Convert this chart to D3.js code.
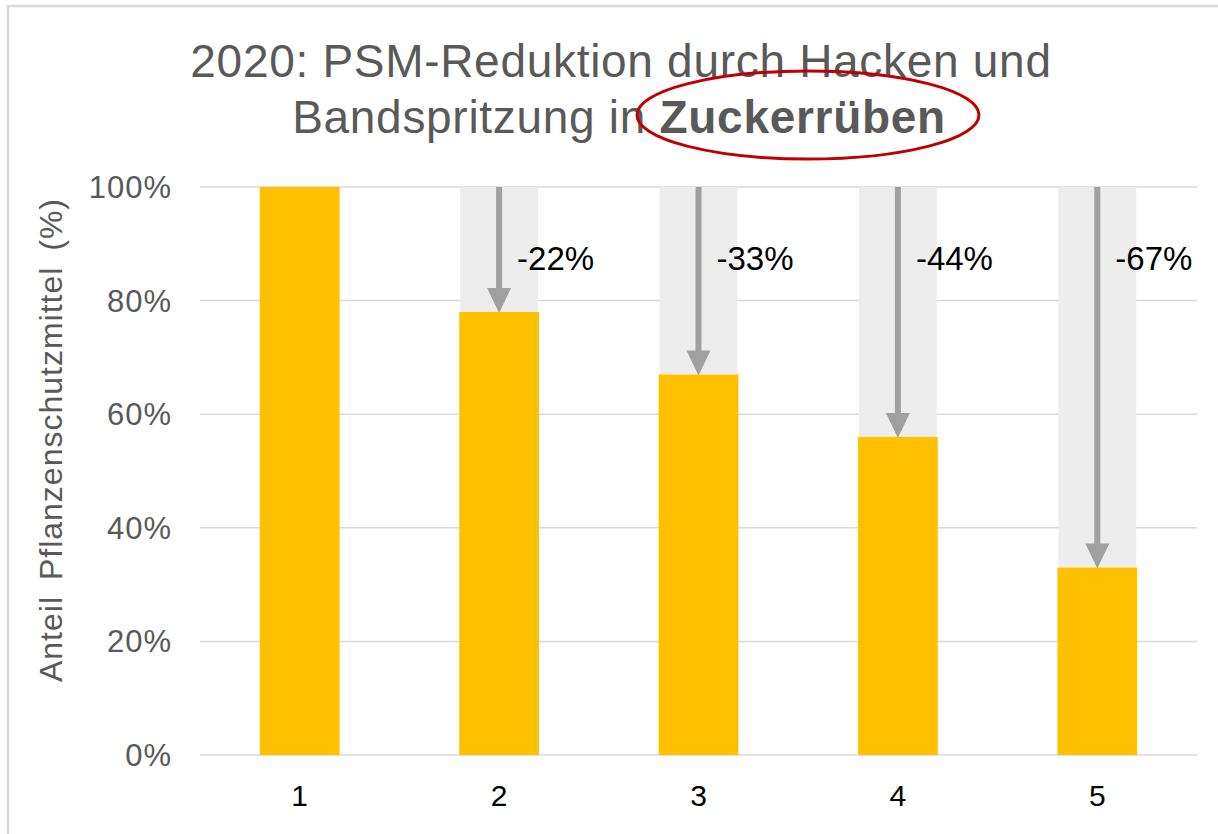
<!DOCTYPE html>
<html><head><meta charset="utf-8">
<script src="https://cdn.jsdelivr.net/npm/d3@7"></script>
<style>body{margin:0;background:#fff}svg{display:block}text{font-family:"Liberation Sans",Arial,sans-serif}</style>
</head><body>
<svg id="c" width="1218" height="834"></svg>
<script>
const categories = ["1","2","3","4","5"];
const values = [100, 78, 67, 56, 33];
const reductionLabels = ["", "-22%", "-33%", "-44%", "-67%"];
const yTicks = [0, 20, 40, 60, 80, 100];
const titleLine1 = "2020: PSM-Reduktion durch Hacken und";
const titleLine2a = "Bandspritzung in ";
const titleLine2b = "Zuckerrüben";
const yTitle = "Anteil Pflanzenschutzmittel (%)";

const svg = d3.select("#c");
svg.append("rect").attr("x",8).attr("y",6).attr("width",1300).attr("height",900)
  .attr("fill","none").attr("stroke","#d9d9d9").attr("stroke-width",2.5);

const x = d3.scaleBand().domain(categories).range([200,1197]).paddingInner(0.6).paddingOuter(0.3);
const y = d3.scaleLinear().domain([0,100]).range([755,187]);

// gridlines
svg.append("g").selectAll("line").data(yTicks).join("line")
  .attr("x1",200).attr("x2",1197).attr("y1",d=>y(d)).attr("y2",d=>y(d))
  .attr("stroke","#d9d9d9").attr("stroke-width",1.5);

// y tick labels
svg.append("g").selectAll("text").data(yTicks).join("text")
  .attr("x",172).attr("y",d=>y(d)+11).attr("text-anchor","end")
  .attr("font-size",31).attr("letter-spacing",1).attr("fill","#595959").text(d=>d+"%");

// x labels
svg.append("g").selectAll("text").data(categories).join("text")
  .attr("x",d=>x(d)+x.bandwidth()/2).attr("y",806).attr("text-anchor","middle")
  .attr("font-size",30).attr("fill","#000").text(d=>d);

const data = categories.map((c,i)=>({c, v:values[i], lab:reductionLabels[i]}));

// gray background
svg.append("g").selectAll("rect").data(data.filter(d=>d.v<100)).join("rect")
  .attr("x",d=>x(d.c)+1).attr("width",x.bandwidth()-2)
  .attr("y",y(100)).attr("height",d=>y(d.v)-y(100)).attr("fill","#ededed");

// bars
svg.append("g").selectAll("rect").data(data).join("rect")
  .attr("x",d=>x(d.c)).attr("width",x.bandwidth())
  .attr("y",d=>y(d.v)).attr("height",d=>y(0)-y(d.v)).attr("fill","#ffc000");

// arrows
const ag = svg.append("g").selectAll("g").data(data.filter(d=>d.v<100)).join("g");
ag.append("line")
  .attr("x1",d=>x(d.c)+x.bandwidth()/2).attr("x2",d=>x(d.c)+x.bandwidth()/2)
  .attr("y1",y(100)).attr("y2",d=>y(d.v)-20)
  .attr("stroke","#a0a0a0").attr("stroke-width",6);
ag.append("path")
  .attr("d",d=>{const cx=x(d.c)+x.bandwidth()/2, ty=y(d.v)+1;
    return `M${cx-12},${ty-25}L${cx+12},${ty-25}L${cx},${ty}Z`;})
  .attr("fill","#a0a0a0");
ag.append("text")
  .attr("x",d=>x(d.c)+x.bandwidth()/2+18).attr("y",270)
  .attr("font-size",33).attr("fill","#000").text(d=>d.lab);

// title
svg.append("text").attr("x",621).attr("y",77).attr("text-anchor","middle")
  .attr("font-size",46).attr("letter-spacing",0.7).attr("fill","#595959").text(titleLine1);
const t2 = svg.append("text").attr("x",619).attr("y",133).attr("text-anchor","middle")
  .attr("font-size",46).attr("letter-spacing",0.7).attr("fill","#595959");
t2.append("tspan").text(titleLine2a);
t2.append("tspan").attr("font-weight","bold").text(titleLine2b);

// ellipse
svg.append("ellipse").attr("cx",808).attr("cy",115).attr("rx",171).attr("ry",44)
  .attr("fill","none").attr("stroke","#c00000").attr("stroke-width",3);

// y title
svg.append("text").attr("transform","translate(62,440) rotate(-90)")
  .attr("text-anchor","middle").attr("font-size",32).attr("letter-spacing",1).attr("word-spacing",6)
  .attr("fill","#595959").text(yTitle);
</script>
</body></html>
